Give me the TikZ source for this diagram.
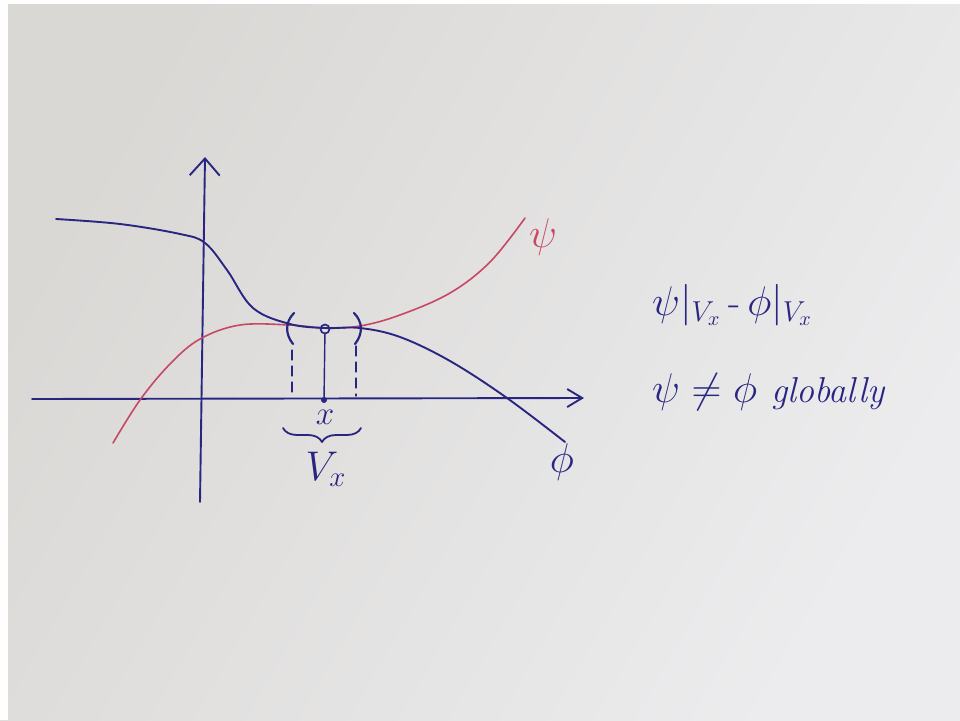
\documentclass[tikz,border=0pt]{standalone}
\usepackage{graphicx}
\usepackage{amsmath}
\usetikzlibrary{arrows.meta,decorations.pathreplacing}
\definecolor{paperA}{RGB}{218,216,213}
\definecolor{paperB}{RGB}{236,236,238}
\definecolor{ink}{RGB}{40,38,128}
\definecolor{redink}{RGB}{198,72,100}
\newcommand{\bigtxt}[1]{\scalebox{2}{\fontsize{20}{22}\selectfont #1}}
\newcommand{\midtxt}[1]{\scalebox{1.6}{\fontsize{20}{22}\selectfont #1}}
\begin{document}
\begin{tikzpicture}[x=1pt,y=-1pt,
  pen/.style={draw=ink,line width=1.9pt,line cap=round,line join=round},
  rpen/.style={draw=redink,line width=1.6pt,line cap=round,line join=round},
  lbl/.style={text=ink,inner sep=0pt},
  ]
% paper
\useasboundingbox (0,0) rectangle (960,720);
\shade[left color=paperA,right color=paperB,shading angle=60] (0,0) rectangle (960,720);
\fill[white!96!paperB] (0,0) rectangle (8,720);
\fill[white!96!paperB] (0,0) rectangle (960,4);

% axes
\coordinate (xs) at (32,399);
\coordinate (xe) at (584,398);
\coordinate (ys) at (200,502);
\coordinate (ye) at (205,157);
\draw[pen,-{Straight Barb[length=15pt,width=18pt,line width=1.9pt]}] (xs) -- (xe);
\draw[pen,-{Straight Barb[length=17pt,width=30pt,line width=1.9pt]}] (ys) -- (ye);

% psi (red)
\draw[rpen] plot[smooth,tension=0.6] coordinates {(113,443) (140,400) (170,364) (200,339) (240,325) (290,325) (325,328) (360,326) (400,315) (450,293) (490,262) (525,218)};
% phi (blue)
\draw[pen] plot[smooth,tension=0.6] coordinates {(56,219) (120,224) (180,234) (205,243) (227,270) (253,308) (290,324) (325,328) (360,328) (400,337) (450,361) (507,398) (565,442)};

% neighbourhood
\draw[pen,line width=2.2pt] (294,313) .. controls (285,322) and (285,334) .. (293,344);
\draw[pen,line width=2.2pt] (354,313) .. controls (363,322) and (363,334) .. (355,344);
\node[circle,draw=ink,line width=1.7pt,minimum size=9pt,inner sep=0pt] (cx) at (325,329) {};
\node[circle,fill=ink,minimum size=6pt,inner sep=0pt] (px) at (324,400) {};
\coordinate (lt) at (292,350);
\coordinate (lb) at (292,398);
\coordinate (rt) at (356,346);
\coordinate (rb) at (356,396);
\draw[pen,line width=1.2pt,dash pattern=on 10pt off 6pt] (lt) -- (lb);
\draw[pen,line width=1.2pt,dash pattern=on 10pt off 6pt] (rt) -- (rb);
\draw[pen,line width=1.4pt] (cx) -- (px);

\node[lbl] (xl) at (325,417) {\midtxt{$x$}};
\coordinate (bl) at (283,428);
\coordinate (br) at (361,428);
\draw[pen,line width=1.8pt,decorate,decoration={brace,mirror,amplitude=14pt}] (bl) -- (br);
\node[lbl] (vx) at (326,469) {\bigtxt{$V_x$}};

% curve labels
\node[text=redink,inner sep=0pt] (psil) at (543,237) {\bigtxt{$\psi$}};
\node[lbl] (phil) at (562,462) {\bigtxt{$\phi$}};

% statements
\node[lbl,anchor=west] (eq1) at (652,305) {\bigtxt{$\psi|_{V_x}\,\text{-}\,\phi|_{V_x}$}};
\node[lbl,anchor=west] (eq2) at (652,392) {\bigtxt{$\psi\neq\phi$}\hspace{14pt}\scalebox{1.8}{\fontsize{20}{22}\selectfont\textit{globally}}};
\end{tikzpicture}
\end{document}
